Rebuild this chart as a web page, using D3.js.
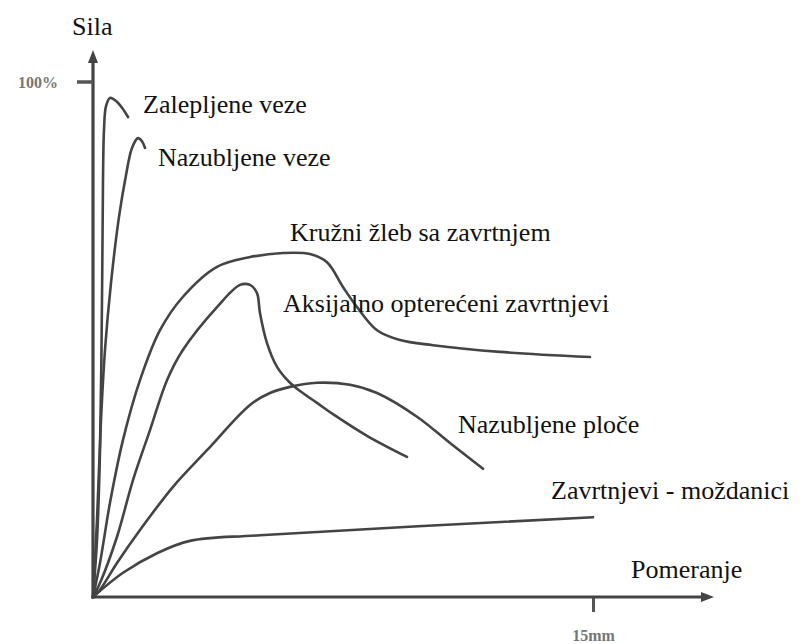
<!DOCTYPE html>
<html>
<head>
<meta charset="utf-8">
<script src="https://cdn.jsdelivr.net/npm/d3@7"></script>
<style>
  html, body { margin: 0; padding: 0; background: #fff; }
  svg { display: block; }
</style>
</head>
<body>
<svg id="chart" width="800" height="644"></svg>
<script>
// Displacement in mm, force in % of max
const zalepljene = [
  [0, 0], [0.12, 11], [0.21, 28.5], [0.27, 57.7], [0.30, 81], [0.33, 90.7],
  [0.39, 95.3], [0.51, 96.9], [0.69, 96.3], [0.87, 95], [1.05, 93.2]
];
const nazubljeneVeze = [
  [0, 0], [0.12, 15], [0.24, 34.4], [0.36, 48], [0.54, 61], [0.78, 73.8],
  [0.99, 81.9], [1.17, 87.2], [1.35, 89.1], [1.47, 88.5], [1.56, 87.2]
];
const kruzniZleb = [
  [0, 0], [0.21, 6.6], [0.51, 18.3], [0.90, 30.5], [1.41, 42.1], [2.01, 51.8],
  [2.70, 58.3], [3.72, 64.1], [4.71, 66], [5.70, 66.8], [6.51, 66.6], [7.02, 65],
  [7.50, 60.2], [7.92, 56.3], [8.52, 51.8], [9.21, 49.9], [10.2, 48.9],
  [12.21, 47.6], [14.91, 46.6]
];
const aksijalno = [
  [0, 0], [0.21, 2.7], [0.72, 11.7], [1.20, 22.7], [1.71, 32.4], [2.22, 42.1],
  [2.70, 48], [3.72, 56.3], [4.41, 60.6], [4.71, 60.6], [4.92, 59], [5.01, 55.1],
  [5.22, 49.3], [5.52, 44.7], [5.91, 41.6], [6.21, 40], [6.72, 37.7], [7.20, 35.5],
  [8.22, 31.3], [9.42, 27.2]
];
const nazubljenePloce = [
  [0, 0], [0.21, 1.4], [0.72, 6.6], [1.41, 13], [2.40, 21.4], [3.42, 28.5],
  [4.71, 37.3], [5.31, 39.6], [5.91, 40.8], [6.72, 41.6], [7.71, 41.2], [8.52, 39.6],
  [9.72, 35], [10.71, 29.9], [11.70, 24.9]
];
const mozdanici = [
  [0, 0], [0.90, 4.7], [1.92, 8.5], [2.91, 10.9], [5.01, 12], [15, 15.5]
];

const seriesNames = [
  "Zalepljene veze",
  "Nazubljene veze",
  "Kružni žleb sa zavrtnjem",
  "Aksijalno opterećeni zavrtnjevi",
  "Nazubljene ploče",
  "Zavrtnjevi - moždanici"
];
const seriesValues = [zalepljene, nazubljeneVeze, kruzniZleb, aksijalno, nazubljenePloce, mozdanici];

const yTicks = [100];
const yTickLabels = ["100%"];
const xTicks = [15];
const xTickLabels = ["15mm"];

// label placement (pixels, left x / baseline y)
const labelPos = [[143, 113], [158, 166], [290, 241], [283, 312], [458, 433], [551, 499]];

const svg = d3.select("#chart");
const ink = "#444";
const serif = "'Liberation Serif', 'Times New Roman', serif";

const x = d3.scaleLinear().domain([0, 15]).range([93, 593]);
const y = d3.scaleLinear().domain([0, 100]).range([597, 82]);

// Y axis label (100%)
const yAxis = svg.append("g")
  .attr("transform", `translate(${x(0)},0)`)
  .call(d3.axisLeft(y).tickValues(yTicks).tickSize(15).tickPadding(20)
    .tickFormat((d, i) => yTickLabels[i]));
yAxis.select(".domain").remove();
yAxis.selectAll(".tick line").remove();
yAxis.selectAll("text")
  .attr("font-family", serif).attr("font-size", 16).attr("font-weight", "bold")
  .attr("fill", "#777").attr("dy", "0.36em");

// X axis with 15mm tick
const xAxis = svg.append("g")
  .attr("transform", `translate(0,${y(0)})`)
  .call(d3.axisBottom(x).tickValues(xTicks).tickSize(15)
    .tickFormat((d, i) => xTickLabels[i]));
xAxis.select(".domain").remove();
xAxis.selectAll(".tick line").attr("stroke", "#555").attr("stroke-width", 3);
xAxis.selectAll("text")
  .attr("font-family", serif).attr("font-size", 16).attr("font-weight", "bold")
  .attr("fill", "#777").attr("y", 44).attr("dy", 0);

// axis lines + arrowheads
const x0 = x(0), y0 = y(0);
svg.append("line").attr("x1", x0).attr("y1", y0 + 1.5).attr("x2", x0).attr("y2", 60)
  .attr("stroke", ink).attr("stroke-width", 3.2);
svg.append("path").attr("d", `M${x0},50 L${x0 - 5},63 L${x0 + 5},63 Z`).attr("fill", ink);
svg.append("line").attr("x1", x0 - 1.5).attr("y1", y0).attr("x2", 703).attr("y2", y0)
  .attr("stroke", ink).attr("stroke-width", 3.2);
svg.append("path").attr("d", `M714,${y0} L701,${y0 - 5} L701,${y0 + 5} Z`).attr("fill", ink);

// curves
const line = d3.line()
  .x(d => x(d[0]))
  .y(d => y(d[1]))
  .curve(d3.curveCatmullRom.alpha(0.5));

svg.append("g")
  .selectAll("path")
  .data(seriesValues)
  .join("path")
  .attr("d", line)
  .attr("fill", "none")
  .attr("stroke", ink)
  .attr("stroke-width", 2.6)
  .attr("stroke-linecap", "round")
  .attr("stroke-linejoin", "round");

// series labels
svg.append("g")
  .selectAll("text")
  .data(seriesNames)
  .join("text")
  .attr("x", (d, i) => labelPos[i][0])
  .attr("y", (d, i) => labelPos[i][1])
  .attr("font-family", serif)
  .attr("font-size", 26)
  .attr("fill", "#111")
  .text(d => d);

// axis titles
svg.append("text").attr("x", 72).attr("y", 35)
  .attr("font-family", serif).attr("font-size", 26).attr("fill", "#111").text("Sila");
svg.append("text").attr("x", 631).attr("y", 578)
  .attr("font-family", serif).attr("font-size", 26).attr("fill", "#111").text("Pomeranje");

// 100% tick mark, drawn last
yTicks.forEach(t => {
  svg.append("path")
    .attr("d", `M${x0 - 16},${y(t)} H${x0}`)
    .attr("fill", "none")
    .attr("stroke", "#555")
    .attr("stroke-width", 3.5);
});
</script>
</body>
</html>
